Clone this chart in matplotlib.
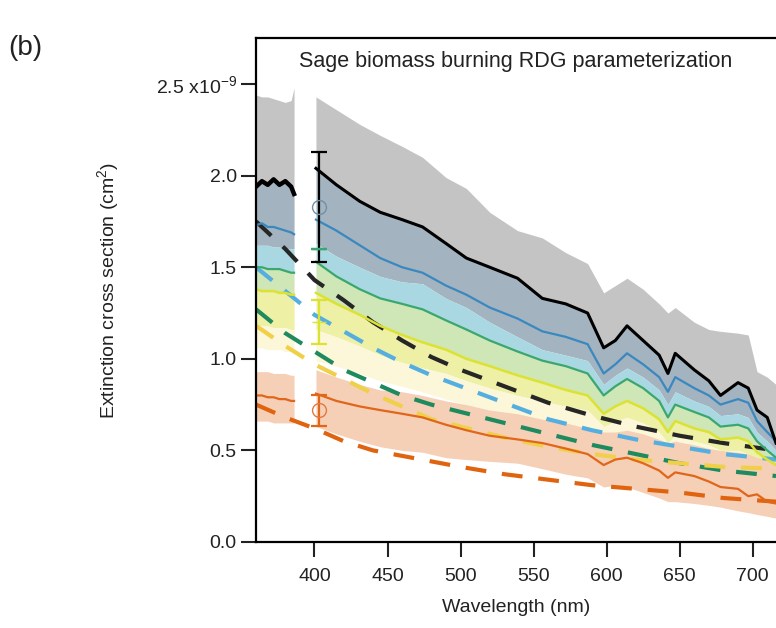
import matplotlib
matplotlib.use("Agg")
import matplotlib.pyplot as plt

plt.rcParams['font.family'] = ['Liberation Sans', 'DejaVu Sans']
plt.rcParams['mathtext.default'] = 'regular'

# measured spectra, first segment (before the gap)
wl_a = [360, 364, 368, 372, 376, 380, 384, 386]
black_a = [1.94, 1.97, 1.95, 1.98, 1.95, 1.97, 1.94, 1.90]
blue_a = [1.73, 1.74, 1.72, 1.72, 1.71, 1.70, 1.69, 1.68]
teal_a = [1.50, 1.50, 1.49, 1.49, 1.49, 1.48, 1.47, 1.47]
yellow_a = [1.38, 1.37, 1.37, 1.37, 1.36, 1.36, 1.35, 1.35]
orange_a = [0.80, 0.80, 0.79, 0.79, 0.78, 0.78, 0.77, 0.77]
gray_up_a = [2.44, 2.43, 2.43, 2.42, 2.41, 2.40, 2.41, 2.48]
slate_lo_a = [1.62, 1.62, 1.62, 1.61, 1.61, 1.60, 1.60, 1.60]
yellow_lo_a = [1.18, 1.18, 1.18, 1.17, 1.17, 1.17, 1.16, 1.16]
cream_lo_a = [1.06, 1.06, 1.05, 1.05, 1.05, 1.04, 1.04, 1.04]
peach_up_a = [0.93, 0.93, 0.93, 0.92, 0.92, 0.92, 0.91, 0.91]
peach_lo_a = [0.66, 0.66, 0.66, 0.65, 0.65, 0.65, 0.65, 0.65]

# measured spectra, second segment (after the gap)
wl_b = [401, 415, 431, 445, 460, 474, 490, 504, 520, 539, 556, 572, 587, 598,
        606, 614, 625, 636, 642, 647, 660, 670, 678, 690, 697, 703, 710, 716]
black_b = [2.04, 1.95, 1.86, 1.80, 1.76, 1.72, 1.63, 1.55, 1.50, 1.44, 1.33, 1.30, 1.25, 1.06,
           1.10, 1.18, 1.10, 1.02, 0.92, 1.03, 0.94, 0.88, 0.80, 0.87, 0.84, 0.72, 0.68, 0.54]
blue_b = [1.76, 1.70, 1.62, 1.55, 1.50, 1.47, 1.40, 1.35, 1.28, 1.22, 1.15, 1.12, 1.08, 0.92,
          0.97, 1.03, 0.97, 0.90, 0.82, 0.90, 0.84, 0.80, 0.75, 0.78, 0.76, 0.66, 0.60, 0.55]
teal_b = [1.53, 1.45, 1.38, 1.33, 1.30, 1.27, 1.21, 1.16, 1.10, 1.04, 0.99, 0.96, 0.92, 0.80,
          0.85, 0.89, 0.84, 0.77, 0.68, 0.75, 0.71, 0.68, 0.63, 0.64, 0.62, 0.55, 0.50, 0.46]
yellow_b = [1.36, 1.30, 1.24, 1.18, 1.13, 1.09, 1.05, 1.00, 0.96, 0.91, 0.87, 0.83, 0.80, 0.70,
            0.74, 0.77, 0.73, 0.67, 0.60, 0.66, 0.62, 0.60, 0.56, 0.57, 0.55, 0.49, 0.45, 0.42]
orange_b = [0.81, 0.77, 0.74, 0.72, 0.70, 0.68, 0.64, 0.61, 0.58, 0.56, 0.54, 0.51, 0.48, 0.42,
            0.45, 0.46, 0.43, 0.39, 0.35, 0.38, 0.36, 0.33, 0.30, 0.29, 0.25, 0.26, 0.22, 0.21]
gray_up_b = [2.43, 2.36, 2.28, 2.22, 2.16, 2.10, 1.99, 1.93, 1.80, 1.70, 1.66, 1.58, 1.52, 1.36,
             1.40, 1.44, 1.38, 1.30, 1.25, 1.28, 1.20, 1.16, 1.15, 1.14, 1.13, 0.93, 0.90, 0.86]
slate_lo_b = [1.63, 1.56, 1.50, 1.45, 1.42, 1.41, 1.33, 1.28, 1.20, 1.12, 1.05, 1.02, 0.99, 0.86,
              0.91, 0.95, 0.90, 0.83, 0.75, 0.82, 0.77, 0.74, 0.69, 0.70, 0.68, 0.60, 0.55, 0.50]
yellow_lo_b = [1.16, 1.12, 1.07, 1.02, 0.98, 0.95, 0.92, 0.88, 0.84, 0.80, 0.77, 0.74, 0.72, 0.63,
               0.66, 0.68, 0.65, 0.60, 0.54, 0.58, 0.55, 0.53, 0.50, 0.50, 0.48, 0.43, 0.40, 0.37]
cream_lo_b = [0.99, 0.96, 0.92, 0.88, 0.85, 0.82, 0.78, 0.75, 0.72, 0.68, 0.65, 0.63, 0.61, 0.56,
              0.57, 0.58, 0.56, 0.52, 0.48, 0.50, 0.48, 0.46, 0.44, 0.43, 0.41, 0.38, 0.36, 0.34]
peach_up_b = [0.94, 0.90, 0.86, 0.83, 0.82, 0.80, 0.77, 0.75, 0.72, 0.70, 0.67, 0.65, 0.62, 0.60,
              0.60, 0.61, 0.59, 0.56, 0.54, 0.55, 0.53, 0.51, 0.50, 0.49, 0.48, 0.46, 0.45, 0.44]
peach_lo_b = [0.63, 0.59, 0.55, 0.52, 0.50, 0.49, 0.46, 0.45, 0.44, 0.43, 0.40, 0.37, 0.35, 0.30,
              0.31, 0.30, 0.27, 0.24, 0.22, 0.22, 0.21, 0.20, 0.19, 0.17, 0.16, 0.15, 0.14, 0.13]

# RDG model curves (dashed)
wl_m = [360, 380, 400, 420, 440, 460, 480, 500, 530, 560, 590, 620, 650, 680, 716]
black_m = [1.75, 1.60, 1.43, 1.32, 1.20, 1.10, 1.01, 0.94, 0.85, 0.76, 0.69, 0.63, 0.58, 0.54, 0.50]
blue_m = [1.50, 1.37, 1.24, 1.15, 1.06, 0.98, 0.91, 0.85, 0.76, 0.67, 0.61, 0.56, 0.52, 0.48, 0.45]
teal_m = [1.27, 1.14, 1.04, 0.94, 0.87, 0.80, 0.75, 0.71, 0.65, 0.59, 0.53, 0.48, 0.43, 0.39, 0.36]
yellow_m = [1.18, 1.07, 0.97, 0.89, 0.81, 0.74, 0.67, 0.63, 0.57, 0.52, 0.48, 0.45, 0.43, 0.41, 0.40]
orange_m = [0.75, 0.68, 0.62, 0.55, 0.50, 0.47, 0.44, 0.41, 0.37, 0.34, 0.31, 0.29, 0.27, 0.24, 0.22]

# error bars at 403 nm
err_wl = 403
err_center = [1.83, 1.60, 1.20, 0.72]
err_half = [0.30, 0.0, 0.12, 0.085]

fig = plt.figure(figsize=(7.76, 6.28), dpi=100)
ax = fig.add_axes([0.330, 0.137, 0.670, 0.802])

for wl, g_up, blk, sl, tl, yl, ylo, clo, pu, pl in [
        (wl_a, gray_up_a, black_a, slate_lo_a, teal_a, yellow_a, yellow_lo_a, cream_lo_a, peach_up_a, peach_lo_a),
        (wl_b, gray_up_b, black_b, slate_lo_b, teal_b, yellow_b, yellow_lo_b, cream_lo_b, peach_up_b, peach_lo_b)]:
    ax.fill_between(wl, blk, g_up, color='#c4c4c4', lw=0)
    ax.fill_between(wl, sl, blk, color='#a3b3bf', lw=0)
    ax.fill_between(wl, tl, sl, color='#a9d8e3', lw=0)
    ax.fill_between(wl, yl, tl, color='#cfe6b6', lw=0)
    ax.fill_between(wl, ylo, yl, color='#eef0a6', lw=0)
    ax.fill_between(wl, clo, ylo, color='#fbf7d8', lw=0)
    ax.fill_between(wl, pl, pu, color='#f6cfb7', lw=0)

# model dashed lines
dash = (5, 3.8)
ax.plot(wl_m, black_m, color='#262626', lw=3, dashes=dash)
ax.plot(wl_m, blue_m, color='#55aee0', lw=3, dashes=dash)
ax.plot(wl_m, teal_m, color='#1f8a5e', lw=3, dashes=dash)
ax.plot(wl_m, yellow_m, color='#f0d048', lw=3, dashes=dash)
ax.plot(wl_m, orange_m, color='#e0640f', lw=3, dashes=dash)

# measured lines
for wl, blk, bl, tl, yl, ol, bw in [(wl_a, black_a, blue_a, teal_a, yellow_a, orange_a, 3.2),
                                     (wl_b, black_b, blue_b, teal_b, yellow_b, orange_b, 2.2)]:
    ax.plot(wl, ol, color='#e0661a', lw=1.6)
    ax.plot(wl, yl, color='#dbe232', lw=1.8)
    ax.plot(wl, tl, color='#3aa86e', lw=1.6)
    ax.plot(wl, bl, color='#3a88c0', lw=1.6)
    ax.plot(wl, blk, color='black', lw=bw)

err_colors = ['black', '#3aa86e', '#dbe232', '#e0661a']
err_markers = ['o', '_', '_', 'o']
marker_edge = ['#7090a8', '#3aa86e', '#dbe232', '#e07a40']
for c, h, col, m, me in zip(err_center, err_half, err_colors, err_markers, marker_edge):
    ax.errorbar(err_wl, c, yerr=h, color=col, ecolor=col, capsize=6, capthick=1.6,
                elinewidth=1.6, fmt=m, mfc='none', mec=me, ms=10, zorder=5)

ax.set_xlim(360, 716)
ax.set_ylim(0, 2.75)
ax.set_xticks([400, 450, 500, 550, 600, 650, 700])
ax.set_yticks([0.0, 0.5, 1.0, 1.5, 2.0, 2.5])
ax.set_yticklabels(['0.0', '0.5', '1.0', '1.5', '2.0', '2.5 x10$^{-9}$'])
ax.tick_params(direction='out', length=11, width=1.5, labelsize=14, colors='#222222')
ax.tick_params(axis='x', pad=8)
ax.tick_params(axis='y', pad=3)
for s in ['left', 'bottom', 'top']:
    ax.spines[s].set_linewidth(1.6)
ax.spines['right'].set_visible(False)

ax.set_xlabel('Wavelength (nm)', fontsize=14, labelpad=10, color='#222222')
ax.set_ylabel('Extinction cross section (cm$^{2}$)', fontsize=14, labelpad=25, color='#222222')
ax.text(0.50, 0.975, 'Sage biomass burning RDG parameterization', transform=ax.transAxes,
        ha='center', va='top', fontsize=15.5, color='#222222')
fig.text(0.010, 0.945, '(b)', fontsize=20, va='top', ha='left', color='#222222')

fig.savefig('out.png', dpi=100)
